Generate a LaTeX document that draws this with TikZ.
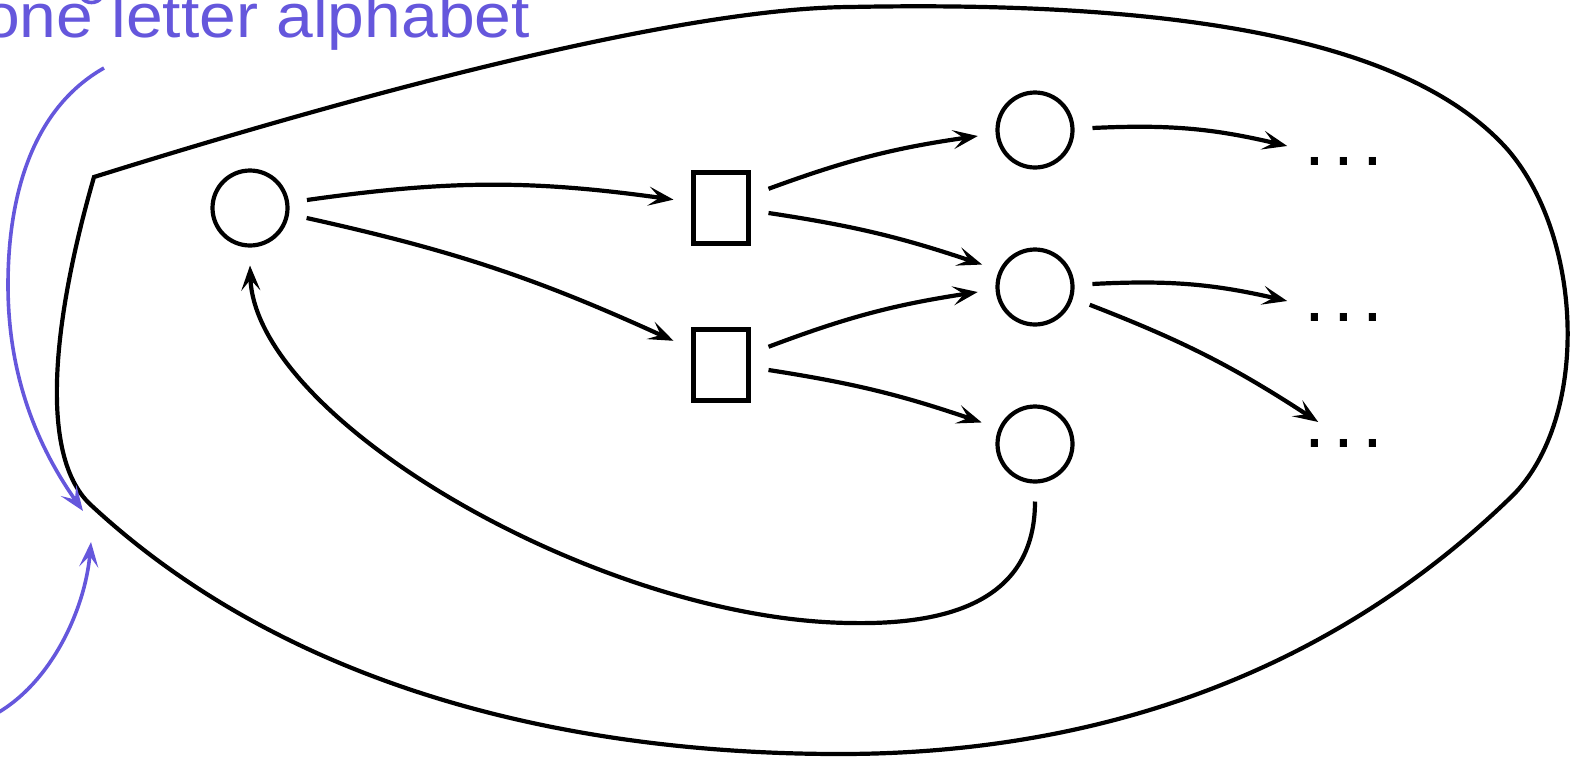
\documentclass[tikz,border=0pt]{standalone}
\usepackage{fontspec}
\setmainfont{Liberation Sans}
\usetikzlibrary{arrows.meta}
\definecolor{lblue}{RGB}{101,87,220}
\begin{document}
\begin{tikzpicture}[x=1pt,y=1pt,
  line width=4.2pt,
  circ/.style={draw,circle,minimum size=75pt,inner sep=0pt,outer sep=20pt},
  box/.style={draw,rectangle,minimum width=55pt,minimum height=71pt,inner sep=0pt,outer sep=20pt},
  dotsn/.style={inner sep=0pt,outer sep=0pt,font=\fontsize{75}{80}\selectfont,anchor=base west},
  arr/.style={-{Stealth[length=25pt,width=19pt,inset=11pt]}},
  barr/.style={lblue,line width=3.6pt,-{Stealth[length=25pt,width=19pt,inset=11pt]}},
  lbl/.style={lblue,font=\fontsize{66}{70}\selectfont,anchor=base east,inner sep=0pt}
  ]
\useasboundingbox (0,0) rectangle (1579,-756);

% label
\node[lbl] (T) at (532,-37.5) {\scalebox{1}[0.94]{one letter alphabet}};
\draw[lblue,line width=3.6pt] (82,2) .. controls (86,-4) and (97,-4) .. (101,2);

% outer region
\draw (94,-177) .. controls (420,-75) and (700,-8) .. (850,-7)
  .. controls (1200,0) and (1415,-45) .. (1508,-150)
  .. controls (1585,-240) and (1590,-425) .. (1508,-500)
  .. controls (1300,-700) and (1050,-754) .. (840,-754)
  .. controls (550,-754) and (280,-680) .. (92,-506)
  .. controls (40,-460) and (50,-330) .. (94,-177) -- cycle;

% nodes
\node[circ] (A) at (250,-208) {};
\node[box] (B1) at (721,-208) {};
\node[box] (B2) at (721,-365) {};
\node[circ] (C1) at (1035,-130) {};
\node[circ] (C2) at (1035,-287) {};
\node[circ] (C3) at (1035,-444) {};
\node[dotsn] (D1) at (1304.2,-165) {.\kern8.15pt.\kern8.15pt.};
\node[dotsn] (D2) at (1304.2,-321) {.\kern8.15pt.\kern8.15pt.};
\node[dotsn] (D3) at (1304.2,-447) {.\kern8.15pt.\kern8.15pt.};

% connectors
\draw[arr] (A.8) to[bend left=8] (B1.170);
\draw[arr] (A.-10) to[bend left=6] (B2.153);
\draw[arr] (B1.22) to[bend left=6] (C1.186);
\draw[arr] (B1.-6) to[bend left=5] (C2.157);
\draw[arr] (B2.21) to[bend left=6] (C2.185);
\draw[arr] (B2.-6) to[bend left=5] (C3.158);
\draw[arr] (C1.2) to[bend left=8] ([xshift=-17pt,yshift=11pt]D1.north west);
\draw[arr] (C2.3) to[bend left=8] ([xshift=-17pt,yshift=12pt]D2.north west);
\draw[arr] (C2.-18) to[bend left=6] ([xshift=14pt,yshift=17pt]D3.north west);
\draw[arr] (C3.south) .. controls (1035,-600) and (950,-625) .. (850,-623)
  .. controls (600,-620) and (255,-420) .. (A.south);

% blue pointers
\coordinate (u0) at (104,-68);
\coordinate (utip) at (83,-511);
\draw[barr] (u0) .. controls (30,-110) and (8,-200) .. (8,-285)
  .. controls (8,-380) and (40,-450) .. (utip);
\coordinate (l0) at (-10,-717);
\coordinate (ltip) at (91,-542);
\draw[barr] (l0) .. controls (50,-687) and (85,-610) .. (ltip);
\end{tikzpicture}
\end{document}
